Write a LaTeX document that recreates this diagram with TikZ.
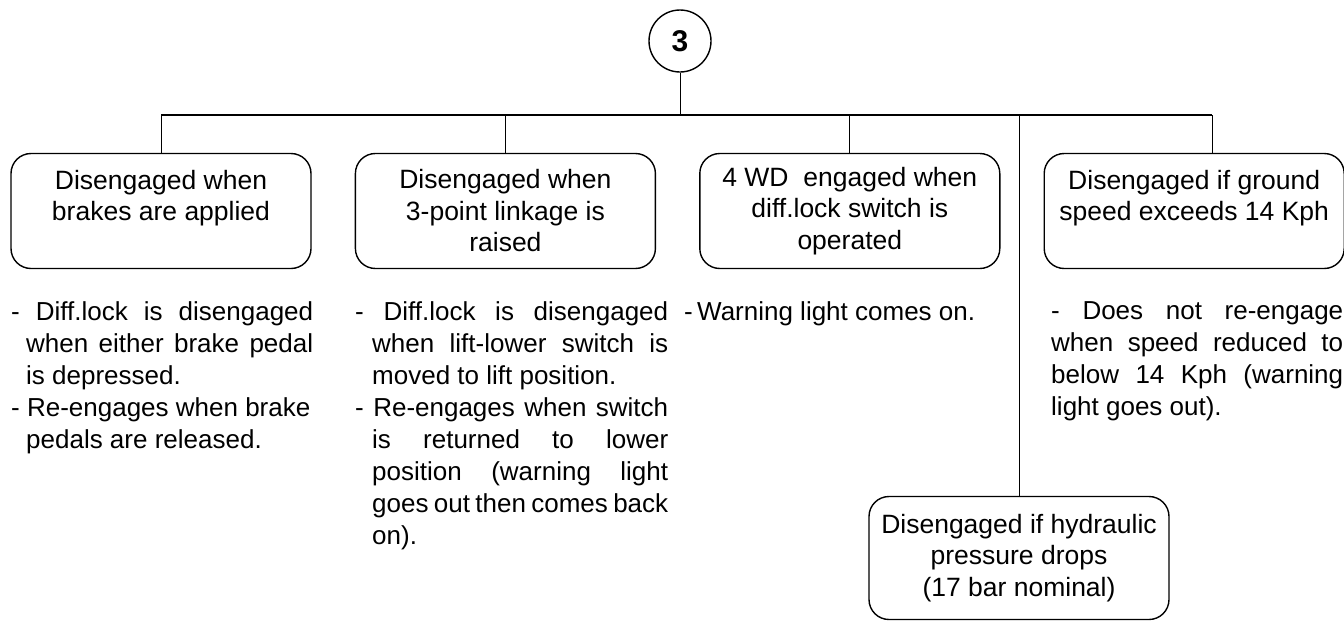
\documentclass[tikz,border=0pt]{standalone}
\usepackage{fontspec}
\setmainfont{Liberation Sans}
\usetikzlibrary{positioning}
\tolerance=10000
\hbadness=10000
\parindent=0pt

\begin{document}
\begin{tikzpicture}[
      x=1pt, y=-1pt,
      node distance=43pt,
      box/.style={draw, line width=1.4pt, rounded corners=20pt, minimum width=300pt, minimum height=115pt, align=center, font=\fontsize{26.5}{31.5}\selectfont},
      note/.style={anchor=north west, inner sep=0pt, align=justify, font=\fontsize{26}{32}\selectfont},
      link/.style={line width=0.8pt},
      bus/.style={line width=1.4pt}
    ]
      \useasboundingbox (0,0) rectangle (1344,624);
      \node[draw, circle, line width=1.4pt, minimum size=62pt, inner sep=0pt, font=\fontsize{30}{30}\selectfont\bfseries] (num) at (680,41) {3};
      \node[box] (brake) at (161,211) {Disengaged when\\brakes are applied\\\mbox{}};
      \node[box, right=of brake] (lift) {Disengaged when\\3-point linkage is\\raised};
      \node[box, right=of lift] (wd) {4 WD~ engaged when\\diff.lock switch is\\operated};
      \node[box, right=of wd] (speed) {Disengaged if ground\\speed exceeds 14 Kph\\\mbox{}};
      \node[box, minimum height=123pt] (hyd) at (1019,558) {Disengaged if hydraulic\\pressure drops\\(17 bar nominal)};
      % notes under the boxes
      \node[note, text width=302pt] (brakenote) at (11,301) {- Diff.lock is disengaged\linebreak
        \hspace*{15pt}when either brake pedal\linebreak
        \hspace*{15pt}is depressed.\\
        \mbox{- Re-engages when brake}\\
        \hspace*{15pt}pedals are released.};
      \node[note, text width=313pt] (liftnote) at (355,301) {- Diff.lock is disengaged\linebreak
        \hspace*{17pt}when lift-lower switch is\linebreak
        \hspace*{17pt}moved to lift position.\\
        - Re-engages when switch\linebreak
        \hspace*{17pt}is returned to lower\linebreak
        \hspace*{17pt}position (warning light\linebreak
        \hspace*{17pt}goes out then comes back\linebreak
        \hspace*{17pt}on).};
      \node[note, text width=300pt] (wdnote) at (684,301) {-\,Warning light comes on.};
      \node[note, text width=292pt] (speednote) at (1051,301) {- Does not re-engage\linebreak
        when speed reduced to\linebreak
        below 14 Kph (warning\linebreak
        light goes out).};
      % connectors
      \coordinate (busR) at (1212,115);
      \draw[bus] (brake.north |- busR) -- (busR);
      \draw[link] (num) -- (num |- busR);
      \foreach \n in {brake, lift, wd} \draw[link] (\n.north |- busR) -- (\n.north);
      \draw[link] (busR) -- (busR |- speed.north);
      \draw[link] (hyd.north |- busR) -- (hyd.north);
    \end{tikzpicture}
\end{document}
